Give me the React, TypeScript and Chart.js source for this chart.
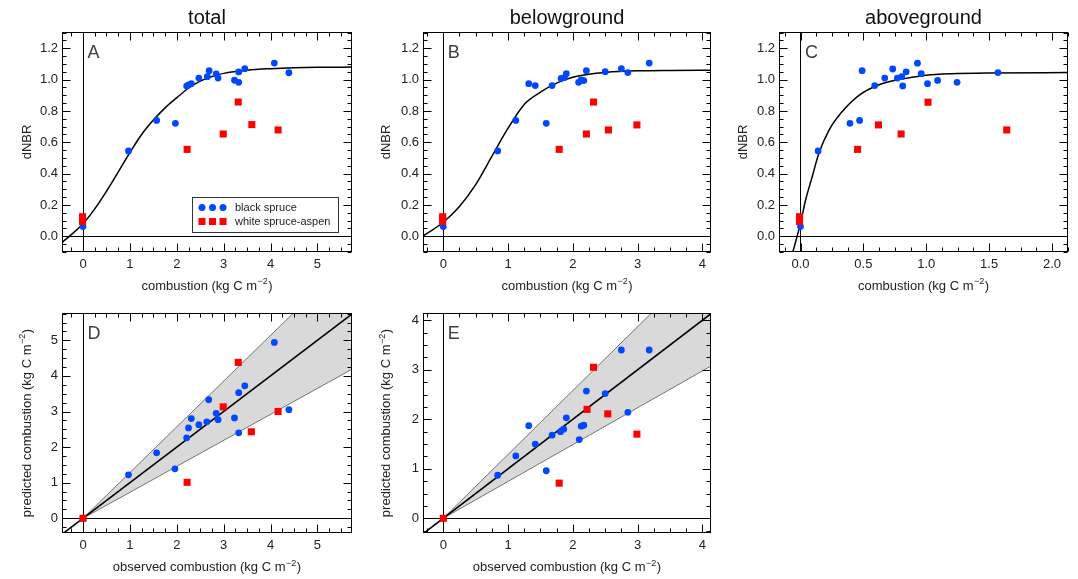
import React, { useEffect, useRef } from "react";
import { Chart, registerables } from "chart.js";

Chart.register(...registerables);

const FONT = '"Liberation Sans", Arial, Helvetica, sans-serif';
const BLUE = "rgb(0, 72, 255)";
const RED = "rgb(255, 0, 0)";
const BAND = "#d9d9d9";

// ---------- Panel A: total combustion vs dNBR ----------
const totalBsX = [0, 0.97, 1.57, 1.97, 2.21, 2.25, 2.31, 2.47, 2.65, 2.69, 2.84, 2.88, 3.23, 3.32, 3.32, 3.45, 4.08, 4.39];
const totalBsY = [0.062, 0.545, 0.74, 0.721, 0.959, 0.966, 0.974, 1.01, 1.019, 1.057, 1.036, 1.01, 0.996, 1.049, 0.983, 1.07, 1.106, 1.044];
const totalWsX = [-0.01, -0.01, -0.01, 2.22, 2.99, 3.31, 3.6, 4.16];
const totalWsY = [0.095, 0.11, 0.125, 0.555, 0.653, 0.857, 0.713, 0.679];
const totalFitX = [-0.45, 0, 0.25, 0.5, 0.75, 1.0, 1.25, 1.5, 1.75, 2.0, 2.25, 2.5, 2.75, 3.0, 3.5, 4.0, 4.5, 5.0, 5.75];
const totalFitY = [-0.04, 0.08, 0.175, 0.287, 0.41, 0.535, 0.65, 0.742, 0.82, 0.885, 0.945, 0.99, 1.02, 1.04, 1.06, 1.07, 1.076, 1.079, 1.08];

// ---------- Panel B: belowground combustion vs dNBR ----------
const belowBsX = [0, 0.84, 1.12, 1.32, 1.42, 1.59, 1.68, 1.82, 1.87, 1.9, 2.09, 2.13, 2.17, 2.21, 2.5, 2.75, 2.85, 3.18];
const belowBsY = [0.062, 0.545, 0.74, 0.974, 0.962, 0.721, 0.962, 1.008, 1.013, 1.038, 0.983, 0.998, 0.994, 1.057, 1.051, 1.07, 1.045, 1.106];
const belowWsX = [-0.01, -0.01, -0.01, 1.79, 2.21, 2.32, 2.55, 2.99];
const belowWsY = [0.095, 0.11, 0.125, 0.555, 0.653, 0.857, 0.679, 0.711];
const belowFitX = [-0.32, 0, 0.25, 0.5, 0.75, 1.0, 1.25, 1.5, 1.75, 2.0, 2.25, 2.5, 3.0, 3.5, 4.15];
const belowFitY = [0.0, 0.09, 0.19, 0.33, 0.51, 0.69, 0.842, 0.92, 0.978, 1.015, 1.035, 1.046, 1.056, 1.059, 1.06];

// ---------- Panel C: aboveground combustion vs dNBR ----------
const aboveBsX = [0, 0.14, 0.393, 0.47, 0.49, 0.59, 0.67, 0.733, 0.77, 0.805, 0.813, 0.84, 0.93, 0.96, 1.01, 1.09, 1.245, 1.57];
const aboveBsY = [0.062, 0.545, 0.721, 0.74, 1.057, 0.962, 1.01, 1.068, 1.01, 1.019, 0.96, 1.05, 1.105, 1.038, 0.974, 0.995, 0.983, 1.045];
const aboveWsX = [-0.008, -0.008, -0.008, 0.454, 0.62, 0.8, 1.014, 1.64];
const aboveWsY = [0.095, 0.11, 0.125, 0.555, 0.711, 0.653, 0.856, 0.679];
const aboveFitX = [-0.061, -0.027, 0, 0.04, 0.093, 0.146, 0.225, 0.32, 0.465, 0.62, 0.78, 1.0, 1.2, 1.5, 2.13];
const aboveFitY = [-0.1, 0.0, 0.083, 0.23, 0.38, 0.53, 0.675, 0.785, 0.9, 0.966, 1.0, 1.028, 1.038, 1.043, 1.045];

// ---------- Panel D: observed vs predicted total combustion ----------
const totalObsBsX = [0, 0.97, 1.57, 1.96, 2.21, 2.25, 2.31, 2.47, 2.64, 2.68, 2.84, 2.88, 3.23, 3.32, 3.32, 3.45, 4.08, 4.39];
const totalPredBsY = [0, 1.22, 1.84, 1.39, 2.26, 2.54, 2.8, 2.63, 2.71, 3.33, 2.95, 2.77, 2.82, 3.53, 2.4, 3.72, 4.94, 3.05];
const totalObsWsX = [0, 2.22, 2.99, 3.31, 3.59, 4.16];
const totalPredWsY = [0, 1.01, 3.13, 4.38, 2.43, 3.0];
const totalOneToOne = [-1, 7];
const totalBandX = [0, 6];
const totalBandUpper = [0, 7.71];
const totalBandLower = [0, 4.38];

// ---------- Panel E: observed vs predicted belowground combustion ----------
const belowObsBsX = [0, 0.84, 1.12, 1.32, 1.42, 1.59, 1.68, 1.81, 1.86, 1.9, 2.1, 2.13, 2.17, 2.21, 2.5, 2.75, 2.85, 3.18];
const belowPredBsY = [0, 0.87, 1.26, 1.87, 1.5, 0.96, 1.68, 1.75, 1.8, 2.03, 1.59, 1.86, 1.88, 2.57, 2.52, 3.4, 2.14, 3.4];
const belowObsWsX = [0, 1.79, 2.22, 2.32, 2.54, 2.99];
const belowPredWsY = [0, 0.71, 2.2, 3.05, 2.11, 1.7];
const belowOneToOne = [-1, 6];
const belowBandX = [0, 5];
const belowBandUpper = [0, 6.45];
const belowBandLower = [0, 3.72];

// ---------- Axis ticks ----------
const dnbrTicks = [0, 0.2, 0.4, 0.6, 0.8, 1.0, 1.2];
const totalTicks = [0, 1, 2, 3, 4, 5];
const belowTicks = [0, 1, 2, 3, 4];
const aboveTicks = [0, 0.5, 1.0, 1.5, 2.0];

const legendLabels = ["black spruce", "white spruce-aspen"];

const pts = (xs: number[], ys: number[]) => xs.map((x, i) => ({ x, y: ys[i] }));

function blueSet(xs: number[], ys: number[]) {
  return {
    type: "scatter",
    label: legendLabels[0],
    data: pts(xs, ys),
    backgroundColor: BLUE,
    borderWidth: 0,
    pointStyle: "circle",
    pointRadius: 3.4,
    order: 2,
  };
}
function redSet(xs: number[], ys: number[]) {
  return {
    type: "scatter",
    label: legendLabels[1],
    data: pts(xs, ys),
    backgroundColor: RED,
    borderWidth: 0,
    pointStyle: "rect",
    pointRadius: 5,
    order: 1,
  };
}
function curveSet(label: string, xs: number[], ys: number[], width = 1.5) {
  return {
    type: "line",
    label,
    data: pts(xs, ys),
    borderColor: "#000",
    borderWidth: width,
    pointRadius: 0,
    fill: false,
    cubicInterpolationMode: "monotone",
    order: 3,
  };
}
function bandSets(xs: number[], up: number[], lo: number[]) {
  return [
    {
      type: "line",
      label: "upper",
      data: pts(xs, up),
      borderColor: "#555",
      borderWidth: 0.8,
      pointRadius: 0,
      fill: "+1",
      backgroundColor: BAND,
      order: 6,
    },
    {
      type: "line",
      label: "lower",
      data: pts(xs, lo),
      borderColor: "#555",
      borderWidth: 0.8,
      pointRadius: 0,
      fill: false,
      order: 5,
    },
  ];
}

interface AxisSpec {
  min: number;
  max: number;
  majors: number[];
  minor: number;
  decimals: number;
}
interface PanelSpec {
  key: string;
  box: { left: number; top: number; width: number; height: number };
  yAxisWidth: number;
  xAxisHeight: number;
  padTop: number;
  padRight: number;
  title?: string;
  x: AxisSpec;
  y: AxisSpec;
  letter: string;
  xTitle: string;
  yTitle: string;
  ySup: boolean;
  xTitleBaseline: number;
  yTitleBaseline: number;
  legend: boolean;
  datasets: any[];
}

const topY: AxisSpec = { min: -0.1, max: 1.304, majors: dnbrTicks, minor: 0.05, decimals: 1 };

const specs: PanelSpec[] = [
  {
    key: "A",
    box: { left: 0, top: 0, width: 360, height: 300 },
    yAxisWidth: 62, xAxisHeight: 48, padTop: 0, padRight: 8,
    title: "total",
    x: { min: -0.448, max: 5.736, majors: totalTicks, minor: 0.25, decimals: 0 },
    y: topY,
    letter: "A",
    xTitle: "combustion (kg C m", yTitle: "dNBR", ySup: false,
    xTitleBaseline: 289.5, yTitleBaseline: 30.7,
    legend: true,
    datasets: [redSet(totalWsX, totalWsY), blueSet(totalBsX, totalBsY), curveSet("fit", totalFitX, totalFitY)],
  },
  {
    key: "B",
    box: { left: 360, top: 0, width: 360, height: 300 },
    yAxisWidth: 63, xAxisHeight: 48, padTop: 0, padRight: 9,
    title: "belowground",
    x: { min: -0.313, max: 4.134, majors: belowTicks, minor: 0.25, decimals: 0 },
    y: topY,
    letter: "B",
    xTitle: "combustion (kg C m", yTitle: "dNBR", ySup: false,
    xTitleBaseline: 289.5, yTitleBaseline: 30,
    legend: false,
    datasets: [redSet(belowWsX, belowWsY), blueSet(belowBsX, belowBsY), curveSet("fit", belowFitX, belowFitY)],
  },
  {
    key: "C",
    box: { left: 720, top: 0, width: 358, height: 300 },
    yAxisWidth: 59, xAxisHeight: 48, padTop: 0, padRight: 10,
    title: "aboveground",
    x: { min: -0.171, max: 2.127, majors: aboveTicks, minor: 0.125, decimals: 1 },
    y: topY,
    letter: "C",
    xTitle: "combustion (kg C m", yTitle: "dNBR", ySup: false,
    xTitleBaseline: 289.5, yTitleBaseline: 26.7,
    legend: false,
    datasets: [redSet(aboveWsX, aboveWsY), blueSet(aboveBsX, aboveBsY), curveSet("fit", aboveFitX, aboveFitY)],
  },
  {
    key: "D",
    box: { left: 0, top: 300, width: 360, height: 279 },
    yAxisWidth: 62, xAxisHeight: 46, padTop: 13, padRight: 8,
    x: { min: -0.448, max: 5.736, majors: totalTicks, minor: 0.25, decimals: 0 },
    y: { min: -0.413, max: 5.767, majors: totalTicks, minor: 0.25, decimals: 0 },
    letter: "D",
    xTitle: "observed combustion (kg C m", yTitle: "predicted combustion (kg C m", ySup: true,
    xTitleBaseline: 271, yTitleBaseline: 30.5,
    legend: false,
    datasets: [
      redSet(totalObsWsX, totalPredWsY),
      blueSet(totalObsBsX, totalPredBsY),
      curveSet("1:1", totalOneToOne, totalOneToOne, 1.6),
      ...bandSets(totalBandX, totalBandUpper, totalBandLower),
    ],
  },
  {
    key: "E",
    box: { left: 360, top: 300, width: 360, height: 279 },
    yAxisWidth: 63, xAxisHeight: 46, padTop: 13, padRight: 9,
    x: { min: -0.313, max: 4.134, majors: belowTicks, minor: 0.25, decimals: 0 },
    y: { min: -0.297, max: 4.147, majors: belowTicks, minor: 0.25, decimals: 0 },
    letter: "E",
    xTitle: "observed combustion (kg C m", yTitle: "predicted combustion (kg C m", ySup: true,
    xTitleBaseline: 271, yTitleBaseline: 30,
    legend: false,
    datasets: [
      redSet(belowObsWsX, belowPredWsY),
      blueSet(belowObsBsX, belowPredBsY),
      curveSet("1:1", belowOneToOne, belowOneToOne, 1.6),
      ...bandSets(belowBandX, belowBandUpper, belowBandLower),
    ],
  },
];

function drawTitleText(
  ctx: CanvasRenderingContext2D,
  text: string,
  sup: boolean,
  cx: number,
  baseline: number,
  rotated: boolean
) {
  ctx.save();
  ctx.fillStyle = "#222";
  ctx.textAlign = "left";
  ctx.textBaseline = "alphabetic";
  const f1 = `13px ${FONT}`;
  const f2 = `9px ${FONT}`;
  ctx.font = f1;
  const w1 = ctx.measureText(text).width;
  const w3 = sup ? ctx.measureText(")").width : 0;
  ctx.font = f2;
  const w2 = sup ? ctx.measureText("\u22122").width : 0;
  const total = w1 + (sup ? w2 + w3 + 1 : 0);
  if (rotated) {
    ctx.translate(baseline, cx);
    ctx.rotate(-Math.PI / 2);
  } else {
    ctx.translate(cx, baseline);
  }
  let x = -total / 2;
  ctx.font = f1;
  ctx.fillText(text, x, 0);
  if (sup) {
    x += w1 + 0.5;
    ctx.font = f2;
    ctx.fillText("\u22122", x, -5.5);
    x += w2 + 0.5;
    ctx.font = f1;
    ctx.fillText(")", x, 0);
  }
  ctx.restore();
}

function makeDecor(spec: PanelSpec) {
  return {
    id: "decor" + spec.key,
    afterDraw(chart: any) {
      const ctx: CanvasRenderingContext2D = chart.ctx;
      const a = chart.chartArea;
      const xs = chart.scales.x;
      const ys = chart.scales.y;
      const L = Math.round(a.left) + 0.5;
      const R = Math.round(a.right) - 0.5;
      const T = Math.round(a.top) + 0.5;
      const B = Math.round(a.bottom) - 0.5;
      ctx.save();
      ctx.strokeStyle = "#000";
      ctx.lineWidth = 1;
      ctx.beginPath();
      const doTicks = (ax: AxisSpec, scale: any, horiz: boolean) => {
        const s = Math.ceil(scale.min / ax.minor - 1e-9);
        const e = Math.floor(scale.max / ax.minor + 1e-9);
        for (let i = s; i <= e; i++) {
          const v = i * ax.minor;
          const major = ax.majors.some((m) => Math.abs(m - v) < 1e-6);
          const len = major ? 8 : 4;
          const p = Math.round(scale.getPixelForValue(v)) + 0.5;
          if (horiz) {
            ctx.moveTo(p, B);
            ctx.lineTo(p, B - len);
            ctx.moveTo(p, T);
            ctx.lineTo(p, T + len);
          } else {
            ctx.moveTo(L, p);
            ctx.lineTo(L + len, p);
            ctx.moveTo(R, p);
            ctx.lineTo(R - len, p);
          }
        }
      };
      doTicks(spec.x, xs, true);
      doTicks(spec.y, ys, false);
      ctx.stroke();
      ctx.strokeRect(L, T, R - L, B - T);

      // panel letter
      ctx.fillStyle = "#404040";
      ctx.font = `18px ${FONT}`;
      ctx.textAlign = "left";
      ctx.textBaseline = "alphabetic";
      ctx.fillText(spec.letter, xs.getPixelForValue(0) + 4.5, a.top + 25.5);

      // axis titles
      const cxArea = (a.left + a.right) / 2;
      const cyArea = (a.top + a.bottom) / 2;
      drawTitleText(ctx, spec.xTitle, true, cxArea, spec.xTitleBaseline, false);
      drawTitleText(ctx, spec.yTitle, spec.ySup, cyArea, spec.yTitleBaseline, true);

      // legend
      if (spec.legend) {
        ctx.fillStyle = "#fff";
        ctx.fillRect(192.5, 197.5, 146, 35);
        ctx.strokeStyle = "#333";
        ctx.strokeRect(192.5, 197.5, 146, 35);
        const mx = [202, 212.5, 223];
        ctx.fillStyle = BLUE;
        mx.forEach((x) => {
          ctx.beginPath();
          ctx.arc(x, 207.5, 3.5, 0, Math.PI * 2);
          ctx.fill();
        });
        ctx.fillStyle = RED;
        mx.forEach((x) => ctx.fillRect(x - 3.5, 218, 7, 7));
        ctx.fillStyle = "#222";
        ctx.font = `11px ${FONT}`;
        ctx.textBaseline = "middle";
        ctx.fillText(legendLabels[0], 235, 207.5);
        ctx.fillText(legendLabels[1], 235, 221.5);
      }
      ctx.restore();
    },
  };
}

function axisOpts(ax: AxisSpec, dir: "x" | "y", size: number, pad: number) {
  return {
    type: "linear",
    position: dir === "x" ? "bottom" : "left",
    min: ax.min,
    max: ax.max,
    afterBuildTicks: (scale: any) => {
      scale.ticks = ax.majors.map((v) => ({ value: v }));
    },
    afterFit: (scale: any) => {
      if (dir === "x") scale.height = size;
      else scale.width = size;
    },
    ticks: {
      padding: pad,
      color: "#222",
      font: { family: FONT, size: 13 },
      maxRotation: 0,
      autoSkip: false,
      callback: (v: any) => Number(v).toFixed(ax.decimals),
    },
    grid: {
      drawTicks: false,
      lineWidth: 1,
      color: (c: any) => (c.tick && Math.abs(c.tick.value) < 1e-9 ? "#000" : "rgba(0,0,0,0)"),
    },
    border: { display: false },
  };
}

function buildConfig(spec: PanelSpec): any {
  return {
    type: "scatter",
    data: { datasets: spec.datasets },
    options: {
      animation: false,
      responsive: false,
      devicePixelRatio: 1,
      events: [],
      layout: { padding: { left: 0, right: spec.padRight, top: spec.padTop, bottom: 0 } },
      plugins: {
        legend: { display: false },
        tooltip: { enabled: false },
        title: spec.title
          ? {
              display: true,
              text: spec.title,
              fullSize: false,
              color: "#111",
              font: { family: FONT, size: 20, weight: "normal" },
              padding: { top: 6, bottom: 2 },
            }
          : { display: false },
      },
      scales: {
        x: axisOpts(spec.x, "x", spec.xAxisHeight, 5),
        y: axisOpts(spec.y, "y", spec.yAxisWidth, 4),
      },
    },
    plugins: [makeDecor(spec)],
  };
}

function Panel({ spec }: { spec: PanelSpec }) {
  const ref = useRef<HTMLCanvasElement>(null);
  useEffect(() => {
    const chart = new Chart(ref.current as HTMLCanvasElement, buildConfig(spec));
    return () => chart.destroy();
  }, [spec]);
  return (
    <canvas
      ref={ref}
      width={spec.box.width}
      height={spec.box.height}
      style={{
        position: "absolute",
        left: spec.box.left,
        top: spec.box.top,
        width: spec.box.width,
        height: spec.box.height,
      }}
    />
  );
}

export default function App() {
  return (
    <div style={{ position: "absolute", left: 0, top: 0, width: 1078, height: 579, background: "#fff" }}>
      {specs.map((s) => (
        <Panel key={s.key} spec={s} />
      ))}
    </div>
  );
}
